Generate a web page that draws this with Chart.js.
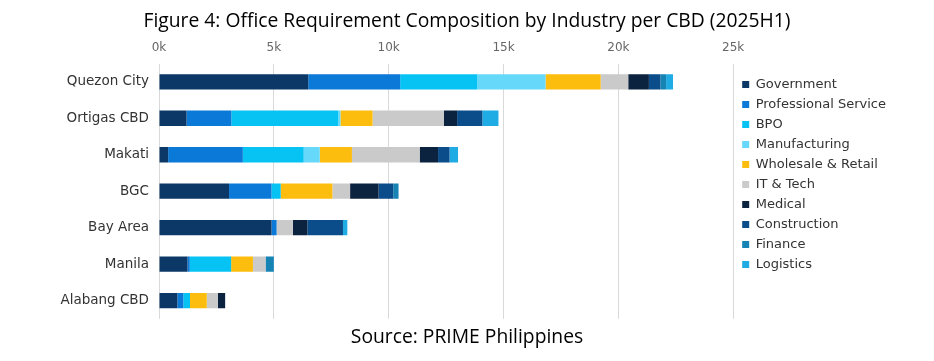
<!DOCTYPE html>
<html>
<head>
<meta charset="utf-8">
<script src="https://cdn.jsdelivr.net/npm/chart.js@4.4.1/dist/chart.umd.min.js"></script>
<style>
  html, body { margin: 0; padding: 0; background: #ffffff; }
  #wrap { position: relative; width: 934px; height: 361px; }
</style>
</head>
<body>
<div id="wrap"><canvas id="c" width="934" height="361"></canvas></div>
<script>
const categories = ['Quezon City', 'Ortigas CBD', 'Makati', 'BGC', 'Bay Area', 'Manila', 'Alabang CBD'];
const seriesNames = ['Government', 'Professional Service', 'BPO', 'Manufacturing', 'Wholesale & Retail', 'IT & Tech', 'Medical', 'Construction', 'Finance', 'Logistics'];
const government    = [6500, 1200,  400, 3050, 4900, 1240, 800];
const professional  = [4000, 1950, 3250, 1850,  220,  100, 260];
const bpo           = [3350, 4650, 2650,  400,    0, 1800, 290];
const manufacturing = [2980,  100,  700,    0,    0,    0,   0];
const wholesale     = [2400, 1400, 1400, 2250,    0,  950, 730];
const itTech        = [1200, 3100, 2950,  770,  710,  550, 480];
const medical       = [ 900,  580,  800, 1240,  630,    0, 320];
const construction  = [ 500, 1100,  500,  640, 1550,    0,   0];
const finance       = [ 250,    0,    0,  230,    0,  360,   0];
const logistics     = [ 300,  700,  370,    0,  190,    0,   0];
const tickValues = [0, 5000, 10000, 15000, 20000, 25000];

const colors = ['#0b3867', '#0a79d8', '#06c3f4', '#66d9fa', '#fcbd0e', '#cacaca', '#0c2340', '#0a4d8a', '#1683b5', '#1fabe4'];
const seriesData = [government, professional, bpo, manufacturing, wholesale, itTech, medical, construction, finance, logistics];

const datasets = seriesNames.map((name, i) => ({
  label: name,
  data: seriesData[i],
  backgroundColor: colors[i],
  borderWidth: 0,
  barPercentage: 0.42,
  categoryPercentage: 1.0
}));

// nudges the legend block to sit a little away from the plot, as in the reference
const legendOffset = {
  id: 'legendOffset',
  afterLayout(chart) {
    const lg = chart.legend;
    if (!lg) return;
    lg.left += 2; lg.right += 2;
    lg.top -= 6; lg.bottom -= 6;
  }
};

new Chart(document.getElementById('c'), {
  type: 'bar',
  data: { labels: categories, datasets },
  plugins: [legendOffset],
  options: {
    indexAxis: 'y',
    responsive: false,
    animation: false,
    layout: { padding: { left: 40, right: 40, top: 0, bottom: 0 } },
    scales: {
      x: {
        position: 'top',
        stacked: true,
        min: 0, max: 25000,
        afterBuildTicks: (axis) => { axis.ticks = tickValues.map(v => ({ value: v })); },
        ticks: {
          callback: (v) => (v / 1000) + 'k',
          color: '#666',
          font: { family: 'DejaVu Sans', size: 12 },
          padding: 8
        },
        grid: { color: '#d9d9d9', drawTicks: false, tickLength: 0 },
        border: { display: false }
      },
      y: {
        stacked: true,
        afterFit: (s) => { s.width = 119; },
        ticks: {
          color: '#333',
          font: { family: 'DejaVu Sans', size: 13.5 },
          padding: 10
        },
        grid: { display: false, drawTicks: false },
        border: { display: false }
      }
    },
    plugins: {
      title: {
        display: true,
        text: 'Figure 4: Office Requirement Composition by Industry per CBD (2025H1)',
        color: '#000',
        font: { family: 'Open Sans', size: 19.3, weight: 'normal' },
        padding: { top: 10, bottom: 0 }
      },
      subtitle: {
        display: true,
        position: 'bottom',
        text: 'Source: PRIME Philippines',
        color: '#000',
        font: { family: 'Open Sans', size: 19.3, weight: 'normal' },
        padding: { top: 7, bottom: 12 }
      },
      legend: {
        position: 'right',
        align: 'center',
        labels: {
          boxWidth: 7,
          boxHeight: 7,
          padding: 7,
          color: '#333',
          font: { family: 'DejaVu Sans', size: 13 }
        }
      },
      tooltip: { enabled: false }
    }
  }
});
</script>
</body>
</html>
